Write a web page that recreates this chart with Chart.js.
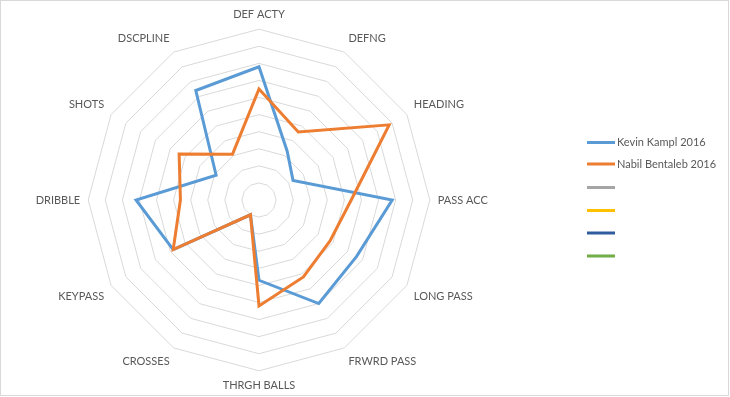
<!DOCTYPE html>
<html>
<head>
<meta charset="utf-8">
<script src="https://cdn.jsdelivr.net/npm/chart.js@4/dist/chart.umd.min.js"></script>
<style>
    html, body { margin: 0; padding: 0; background: #fff; }
    #wrap { position: relative; width: 730px; height: 397px; }
</style>
</head>
<body>
<div id="wrap"><canvas id="radarChart" width="730" height="397"></canvas></div>
<script>
// Categories (clockwise from the top)
const categories = ["DEF ACTY", "DEFNG", "HEADING", "PASS ACC", "LONG PASS", "FRWRD PASS",
    "THRGH BALLS", "CROSSES", "KEYPASS", "DRIBBLE", "SHOTS", "DSCPLINE"];

// Series values (0 - 10)
const kampl = [7.8, 3.3, 2.3, 7.8, 6.6, 7.0, 4.7, 1.0, 5.8, 7.2, 2.9, 7.4];
const bentaleb = [6.5, 4.6, 8.8, 5.4, 4.8, 5.2, 6.2, 1.0, 5.8, 4.6, 5.4, 3.1];

// Legend entries (the last four series are empty in the source)
const seriesNames = ["Kevin Kampl 2016", "Nabil Bentaleb 2016", "", "", "", ""];
const seriesValues = [kampl, bentaleb, [], [], [], []];
const seriesColors = ["#5B9BD5", "#ED7D31", "#A5A5A5", "#FFC000", "#2E5C9E", "#70AD47"];

const scaleMax = 10;

// Draw the Excel-style legend on the right + the chart frame
const sideLegend = {
    id: "sideLegend",
    afterDraw(chart) {
        const ctx = chart.ctx;
        ctx.save();
        ctx.strokeStyle = "#d9d9d9";
        ctx.lineWidth = 1;
        ctx.strokeRect(0.5, 0.5, 728, 395);

        const x0 = 587, x1 = 615;
        const ys = [142.5, 164, 187.5, 210.5, 233, 256];
        ctx.font = "11px Lato";
        ctx.fillStyle = "#595959";
        ctx.textBaseline = "middle";
        chart.data.datasets.forEach((ds, i) => {
            ctx.strokeStyle = ds.borderColor;
            ctx.lineWidth = 3;
            ctx.beginPath();
            ctx.moveTo(x0, ys[i]);
            ctx.lineTo(x1, ys[i]);
            ctx.stroke();
            ctx.fillText(ds.label, 617, ys[i]);
        });
        ctx.restore();
    }
};

const ctx = document.getElementById("radarChart").getContext("2d");
new Chart(ctx, {
    type: "radar",
    data: {
        labels: categories,
        datasets: seriesNames.map((name, i) => ({
            label: name,
            data: seriesValues[i],
            borderColor: seriesColors[i],
            backgroundColor: "transparent",
            borderWidth: 3,
            pointRadius: 0,
            pointHoverRadius: 0,
            fill: false,
            tension: 0,
            // later series sit on top, like in Excel
            order: seriesNames.length - i
        }))
    },
    options: {
        responsive: false,
        animation: false,
        layout: {
            padding: { left: 0, right: 211, top: 8, bottom: 4 }
        },
        plugins: {
            legend: { display: false },
            tooltip: { enabled: false }
        },
        scales: {
            r: {
                min: 0,
                max: scaleMax,
                ticks: { display: false, stepSize: 1 },
                angleLines: { display: false },
                grid: { color: "#d9d9d9", lineWidth: 1 },
                pointLabels: {
                    color: "#595959",
                    padding: 8,
                    font: { family: "Lato", size: 11 }
                }
            }
        }
    },
    plugins: [sideLegend]
});
</script>
</body>
</html>
